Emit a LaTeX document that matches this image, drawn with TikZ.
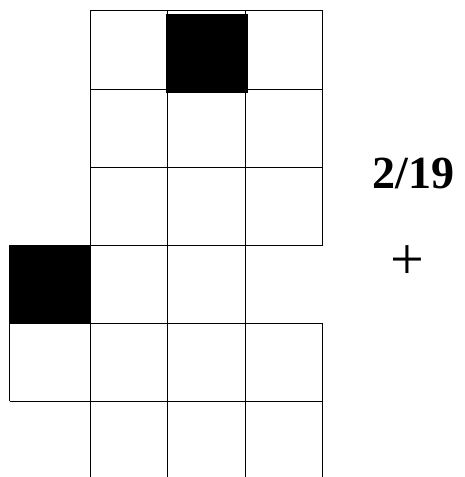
\documentclass[tikz,border=0pt]{standalone}
\usepackage{fontspec}
\setmainfont{Liberation Serif}
\begin{document}
\begin{tikzpicture}[x=1pt,y=-1pt,
  gridline/.style={line width=1pt, black},
  cellfill/.style={fill=black}]
\useasboundingbox (0,0) rectangle (464,477);
% horizontal lines
\draw[gridline] (90.5,10) -- (322.5,10);
\draw[gridline] (90.5,89) -- (322.5,89);
\draw[gridline] (90.5,167) -- (322.5,167);
\draw[gridline] (9.5,245) -- (322.5,245);
\draw[gridline] (9.5,323.5) -- (322.5,323.5);
\draw[gridline] (9.5,401) -- (322.5,401);
% vertical lines
\draw[gridline] (9.5,245) -- (9.5,401);
\draw[gridline] (90.5,10) -- (90.5,477);
\draw[gridline] (167.5,10) -- (167.5,477);
\draw[gridline] (245,10) -- (245,477);
\draw[gridline] (322.5,10) -- (322.5,245);
\draw[gridline] (322.5,323.5) -- (322.5,477);
% black cells
\fill[cellfill] (165.7,14.3) rectangle (247.7,93.3);
\fill[cellfill] (9.3,245) rectangle (90.7,323.5);
% labels
\node[anchor=base, inner sep=0pt, font=\fontsize{46}{55}\selectfont\bfseries] (frac) at (413.5,188.5) {2/19};
\node[inner sep=0pt, font=\fontsize{60}{70}\selectfont] (plus) at (407.5,262.5) {+};
\end{tikzpicture}
\end{document}
